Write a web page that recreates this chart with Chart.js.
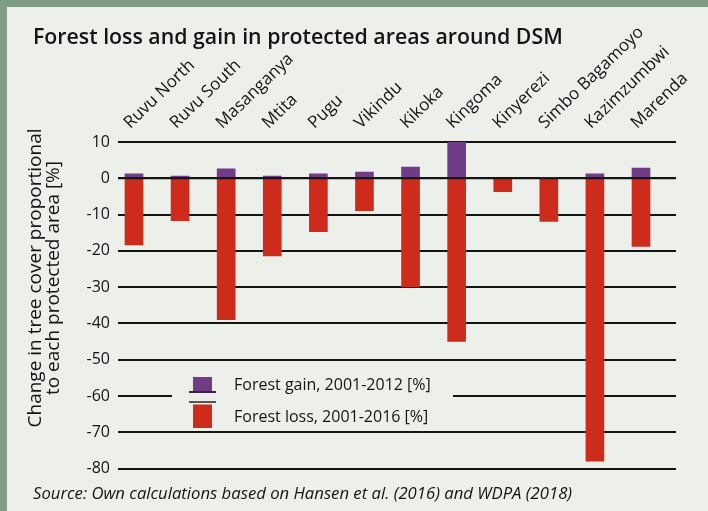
<!DOCTYPE html>
<html>
<head>
<meta charset="utf-8">
<script src="https://cdn.jsdelivr.net/npm/chart.js@4.4.1/dist/chart.umd.min.js"></script>
<style>
html,body{margin:0;padding:0;background:#ebeee9;}
#wrap{width:708px;height:511px;}
</style>
</head>
<body>
<div id="wrap"><canvas id="chart" width="708" height="511"></canvas></div>
<script>
// ---- data ----
const categories = ['Ruvu North','Ruvu South','Masanganya','Mtita','Pugu','Vikindu','Kikoka','Kingoma','Kinyerezi','Simbo Bagamoyo','Kazimzumbwi','Marenda'];
const forestGain = [1.2, 0.6, 2.6, 0.6, 1.2, 1.7, 3.1, 10.0, 0, 0.2, 1.2, 2.8];
const forestLoss = [-18.4, -11.7, -39.0, -21.4, -14.7, -8.9, -29.9, -45.0, -3.7, -11.9, -78.0, -18.8];
const yTicks = [10, 0, -10, -20, -30, -40, -50, -60, -70, -80];
const titleText = 'Forest loss and gain in protected areas around DSM';
const yTitle = ['Change in tree cover proportional', 'to each protected area [%]'];
const sourceText = 'Source: Own calculations based on Hansen et al. (2016) and WDPA (2018)';
const gainLabel = 'Forest gain, 2001-2012 [%]';
const lossLabel = 'Forest loss, 2001-2016 [%]';

const PURPLE = '#6f3c85';
const RED = '#cd2b1c';
const PANEL = '#ecefea';
const INK = '#141414';

const decor = {
  id: 'decor',
  beforeDraw(chart) {
    const ctx = chart.ctx;
    ctx.save();
    ctx.fillStyle = '#7f9c86';
    ctx.fillRect(0, 0, 708, 511);
    ctx.fillStyle = PANEL;
    ctx.fillRect(7, 7, 701, 504);
    ctx.restore();
  },
  afterDatasetsDraw(chart) {
    const ctx = chart.ctx, y = chart.scales.y, a = chart.chartArea;
    ctx.save();
    ctx.strokeStyle = INK;
    ctx.lineWidth = 2;
    const y0 = y.getPixelForValue(0);
    ctx.beginPath(); ctx.moveTo(a.left, y0); ctx.lineTo(a.right, y0); ctx.stroke();
    ctx.restore();
  },
  afterDraw(chart) {
    const ctx = chart.ctx, y = chart.scales.y;
    ctx.save();
    // title
    ctx.fillStyle = INK;
    ctx.font = '600 21.3px "Open Sans"';
    ctx.textAlign = 'left';
    ctx.textBaseline = 'alphabetic';
    ctx.fillText(titleText, 33, 43.5);
    // y axis title
    ctx.font = '400 19px "Open Sans"';
    ctx.textAlign = 'center';
    [[41, yTitle[0]], [59, yTitle[1]]].forEach(([x, t]) => {
      ctx.save(); ctx.translate(x, 278); ctx.rotate(-Math.PI / 2); ctx.fillText(t, 0, 0); ctx.restore();
    });
    // source
    ctx.textAlign = 'left';
    ctx.font = 'italic 400 16.7px "Open Sans"';
    ctx.fillText(sourceText, 33, 499);
    // legend: cover the -60 gridline segment
    const y60 = y.getPixelForValue(-60);
    ctx.fillStyle = PANEL;
    ctx.fillRect(172, y60 - 3, 453 - 172, 6);
    ctx.fillStyle = PURPLE;
    ctx.fillRect(193, 377, 19, 14);
    ctx.fillStyle = '#3a2546';
    ctx.fillRect(189, 391, 27, 2);
    ctx.fillStyle = '#555555';
    ctx.fillRect(189, 401, 27, 2);
    ctx.fillStyle = RED;
    ctx.fillRect(193, 404.5, 19, 23.5);
    ctx.fillStyle = INK;
    ctx.font = '400 16px "Open Sans"';
    ctx.fillText(gainLabel, 234, 389.5);
    ctx.fillText(lossLabel, 234, 421.5);
    ctx.restore();
  }
};

const xMin = -0.347, xMax = 11.759;

new Chart(document.getElementById('chart'), {
  type: 'bar',
  data: {
    datasets: [
      { label: gainLabel, data: categories.map((c, i) => ({ x: i, y: forestGain[i] })), backgroundColor: PURPLE, barThickness: 18, borderWidth: 0 },
      { label: lossLabel, data: categories.map((c, i) => ({ x: i, y: forestLoss[i] })), backgroundColor: RED, barThickness: 18, borderWidth: 0 }
    ]
  },
  options: {
    responsive: false,
    devicePixelRatio: 1,
    animation: false,
    layout: { padding: { left: 0, top: 0, right: 32, bottom: 42.5 } },
    plugins: { legend: { display: false }, tooltip: { enabled: false }, title: { display: false } },
    scales: {
      x: {
        type: 'linear', position: 'top', min: xMin, max: xMax, stacked: true, offset: false,
        grid: { display: false }, border: { display: false },
        afterBuildTicks: s => { s.ticks = categories.map((c, i) => ({ value: i })); },
        afterFit: s => { s.height = 142; },
        ticks: {
          autoSkip: false, minRotation: 44, maxRotation: 44, labelOffset: 7, padding: 1,
          color: INK, font: { family: 'Open Sans', size: 17 },
          callback: v => categories[v]
        }
      },
      y: {
        min: -80, max: 10, stacked: true,
        afterBuildTicks: s => { s.ticks = yTicks.map(v => ({ value: v })); },
        afterFit: s => { s.width = 118; },
        grid: { color: INK, lineWidth: 2, drawTicks: false },
        border: { display: false },
        ticks: { color: INK, padding: 8, font: { family: 'Open Sans', size: 16 } }
      }
    }
  },
  plugins: [decor]
});
</script>
</body>
</html>
